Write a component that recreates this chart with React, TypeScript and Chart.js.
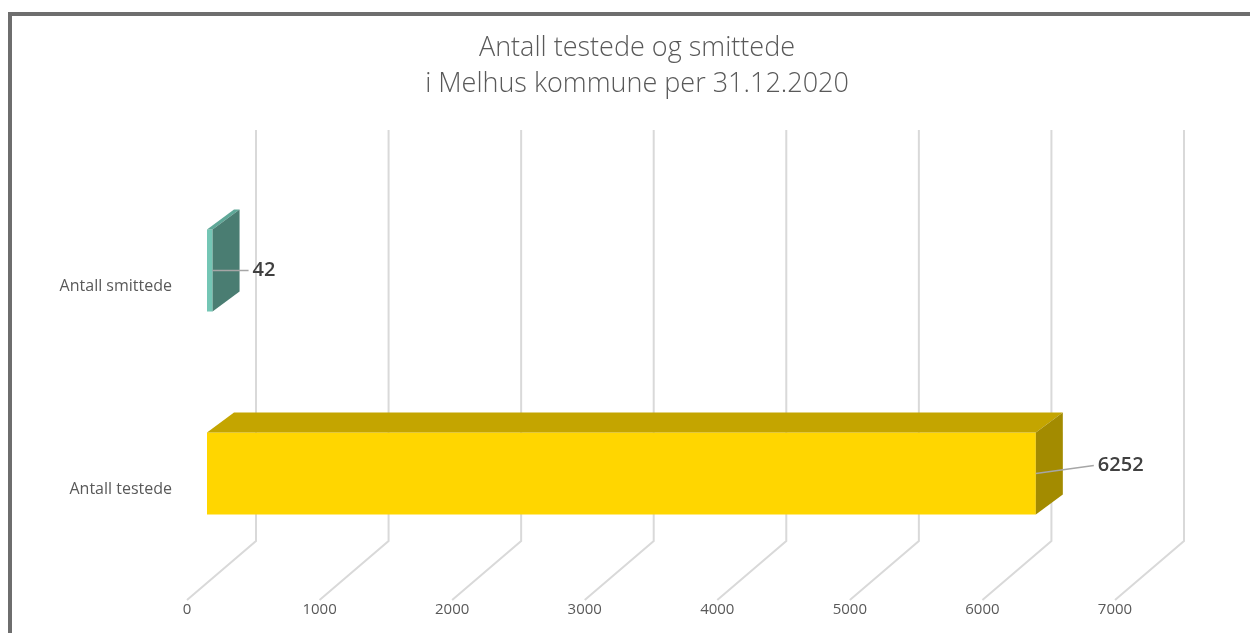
import React, { useEffect, useRef } from "react";
import { Chart, registerables } from "chart.js";

Chart.register(...registerables);

// ---- data ----
const categories = ["Antall smittede", "Antall testede"];
const values = [42, 6252];
const tickValues = [0, 1000, 2000, 3000, 4000, 5000, 6000, 7000];
const titleLines = ["Antall testede og smittede", "i Melhus kommune per 31.12.2020"];

// ---- styles ----
const frontColors = ["#74C6B5", "#FFD600"];
const topColors = ["#5FA898", "#C4A500"];
const sideColors = ["#4A7D72", "#A38B00"];
const labelDx = [40, 62];
const labelDy = [0, -8];
const FONT = "'Open Sans', 'Noto Sans', sans-serif";
const TEXT = "#595959";
const GRID = "#D9D9D9";
const BAR_DX = 27;
const BAR_DY = 20;

const titlePlugin = {
  id: "centeredTitle",
  afterDraw(chart: any) {
    const { ctx } = chart;
    ctx.save();
    ctx.fillStyle = TEXT;
    ctx.font = `300 27px ${FONT}`;
    ctx.textAlign = "center";
    ctx.textBaseline = "middle";
    const cx = chart.width / 2 + 12;
    titleLines.forEach((line, i) => {
      ctx.fillText(line, cx, 48 + i * 36);
    });
    ctx.restore();
  },
};

const threeD = {
  id: "threeD",
  beforeDatasetsDraw(chart: any) {
    const { ctx, chartArea } = chart;
    const xs = chart.scales.x;
    const wallTop = chartArea.top - 39;
    const floorBack = chartArea.bottom - 34;
    const floorFront = chartArea.bottom + 25;
    ctx.save();
    ctx.strokeStyle = GRID;
    ctx.lineWidth = 2;
    tickValues.forEach((v) => {
      const px = xs.getPixelForValue(v);
      ctx.beginPath();
      ctx.moveTo(px + 49, wallTop);
      ctx.lineTo(px + 49, floorBack);
      ctx.lineTo(px - 20, floorFront);
      ctx.stroke();
    });
    ctx.restore();
  },
  afterDatasetsDraw(chart: any) {
    const { ctx } = chart;
    const meta = chart.getDatasetMeta(0);
    ctx.save();
    meta.data.forEach((bar: any, i: number) => {
      const { x, y, base, height } = bar.getProps(["x", "y", "base", "height"], true);
      const top = y - height / 2;
      const bottom = y + height / 2;
      // top face
      ctx.fillStyle = topColors[i];
      ctx.beginPath();
      ctx.moveTo(base, top);
      ctx.lineTo(x, top);
      ctx.lineTo(x + BAR_DX, top - BAR_DY);
      ctx.lineTo(base + BAR_DX, top - BAR_DY);
      ctx.closePath();
      ctx.fill();
      // side face
      ctx.fillStyle = sideColors[i];
      ctx.beginPath();
      ctx.moveTo(x, top);
      ctx.lineTo(x + BAR_DX, top - BAR_DY);
      ctx.lineTo(x + BAR_DX, bottom - BAR_DY);
      ctx.lineTo(x, bottom);
      ctx.closePath();
      ctx.fill();
      // leader line
      const lx = x + labelDx[i];
      const ly = y + labelDy[i];
      ctx.strokeStyle = "#A6A6A6";
      ctx.lineWidth = 1.5;
      ctx.beginPath();
      ctx.moveTo(x, y);
      ctx.lineTo(lx - 4, ly);
      ctx.stroke();
      // label
      ctx.fillStyle = "#404040";
      ctx.font = `600 20px ${FONT}`;
      ctx.textAlign = "left";
      ctx.textBaseline = "middle";
      ctx.fillText(String(values[i]), lx, ly);
    });
    ctx.restore();
  },
};

export default function App() {
  const ref = useRef<HTMLCanvasElement | null>(null);
  useEffect(() => {
    if (!ref.current) return;
    const chart = new Chart(ref.current, {
      type: "bar",
      data: {
        labels: categories,
        datasets: [
          {
            data: values,
            backgroundColor: frontColors,
            borderWidth: 0,
            barPercentage: 0.404,
            categoryPercentage: 1,
          },
        ],
      },
      options: {
        indexAxis: "y",
        responsive: false,
        animation: false,
        layout: { padding: { left: 0, right: 115, top: 169, bottom: 0 } },
        plugins: {
          legend: { display: false },
          tooltip: { enabled: false },
          title: { display: false },
        },
        scales: {
          x: {
            type: "linear",
            min: 0,
            max: 7000,
            afterBuildTicks: (s: any) => {
              s.ticks = tickValues.map((v) => ({ value: v }));
            },
            ticks: {
              stepSize: 1000,
              labelOffset: -20,
              padding: 26,
              color: TEXT,
              font: { family: FONT, size: 15 },
              callback: (v: any) => String(v),
            },
            grid: { display: false, drawTicks: false },
            border: { display: false },
            afterFit: (s: any) => {
              s.height = 58;
            },
          },
          y: {
            type: "category",
            ticks: {
              padding: 35,
              labelOffset: 16,
              color: TEXT,
              font: { family: FONT, size: 16 },
            },
            grid: { display: false, drawTicks: false },
            border: { display: false },
            afterFit: (s: any) => {
              s.width = 207;
            },
          },
        },
      },
      plugins: [threeD, titlePlugin],
    });
    return () => chart.destroy();
  }, []);

  return (
    <div style={{ position: "fixed", left: 0, top: 0, width: 1250, height: 633, background: "#fff", overflow: "hidden" }}>
      <div
        style={{
          position: "absolute",
          left: 8,
          top: 12,
          width: 1300,
          height: 700,
          borderTop: "4px solid #6E6E6E",
          borderLeft: "4px solid #6E6E6E",
        }}
      />
      <canvas ref={ref} width={1250} height={633} style={{ position: "absolute", left: 0, top: 0 }} />
    </div>
  );
}
